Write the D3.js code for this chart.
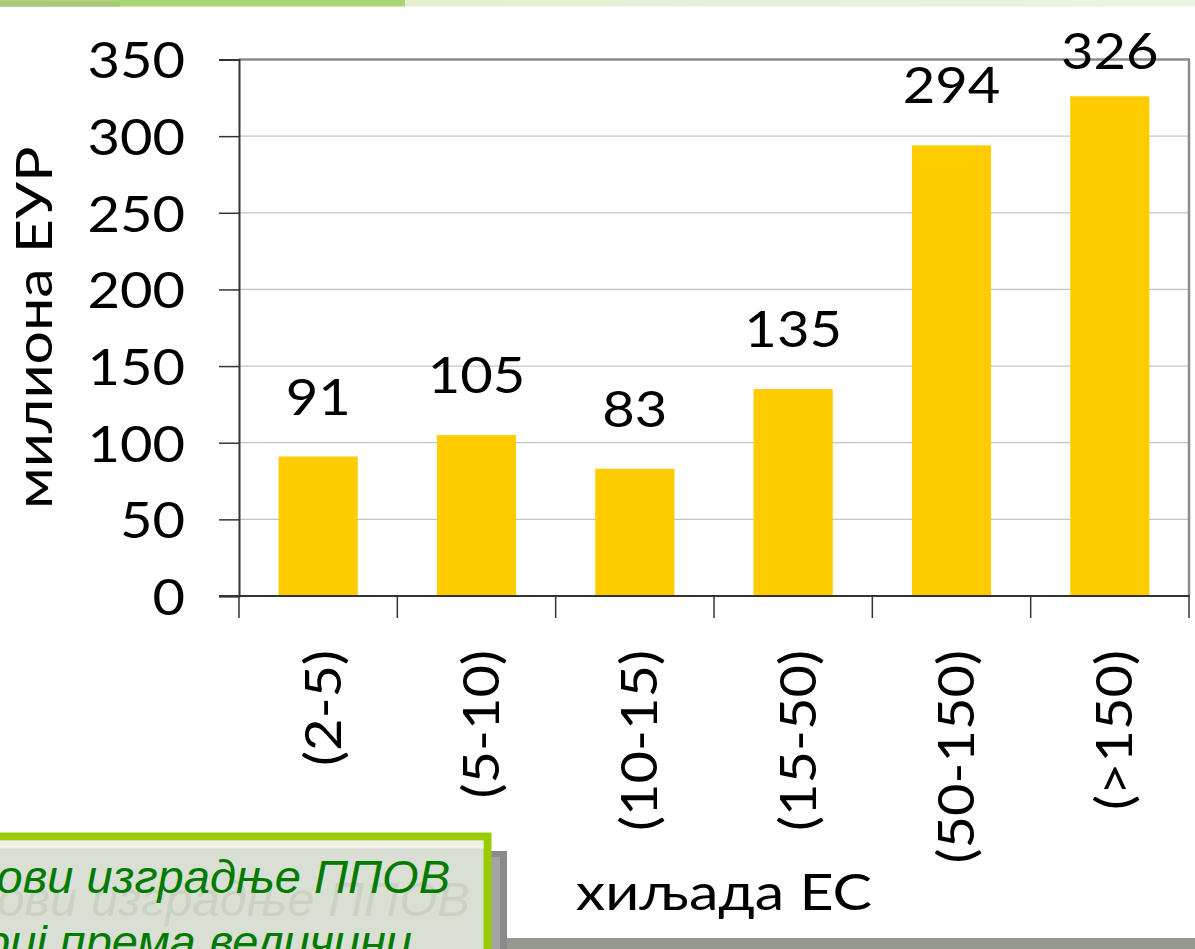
<!DOCTYPE html>
<html><head><meta charset="utf-8">
<script src="https://cdn.jsdelivr.net/npm/d3@7"></script>
<style>body{margin:0;background:#fff;overflow:hidden}svg{display:block}</style>
</head><body>
<svg id="c" width="1195" height="949"></svg>
<script>
const categories = ["(2-5)", "(5-10)", "(10-15)", "(15-50)", "(50-150)", "(>150)"];
const values = [91, 105, 83, 135, 294, 326];
const yTicks = [0, 50, 100, 150, 200, 250, 300, 350];
const yTitle = "милиона ЕУР";
const xTitle = "хиљада ЕС";
const boxLines = ["Трошкови изградње ППОВ", "по категориј према величини"];

const svg = d3.select("#c");
const FONT = "Lato, 'Open Sans', sans-serif";
const SX = 1.13;   // horizontal stretch of text to mimic the wider reference font

// top decorative strip
const defs = svg.append("defs");
const g1 = defs.append("linearGradient").attr("id","strip").attr("x1","0").attr("x2","1");
g1.append("stop").attr("offset","0").attr("stop-color","#e0edc9");
g1.append("stop").attr("offset","1").attr("stop-color","#ebf4e2");
svg.append("rect").attr("x",0).attr("y",0).attr("width",1195).attr("height",6.5).attr("fill","url(#strip)");
svg.append("rect").attr("x",0).attr("y",0).attr("width",405).attr("height",6.5).attr("fill","#acd374");
svg.append("rect").attr("x",0).attr("y",2).attr("width",120).attr("height",4.5).attr("fill","#a9c87c");

const x0 = 239, x1 = 1189, yTop = 59.5, yBot = 596;
const x = d3.scaleBand().domain(categories).range([x0, x1]).paddingInner(0.5).paddingOuter(0.25);
const xb = d3.scaleBand().domain(categories).range([x0, x1]);
const y = d3.scaleLinear().domain([0, 350]).range([yBot, yTop]);

// gridlines
svg.append("g").selectAll("line").data(yTicks.filter(d => d > 0 && d < 350)).join("line")
  .attr("x1", x0).attr("x2", x1).attr("y1", d => y(d)).attr("y2", d => y(d))
  .attr("stroke", "#c4c4c4").attr("stroke-width", 1.3);

// plot border top/right
svg.append("line").attr("x1", x0).attr("x2", x1 + 1).attr("y1", yTop).attr("y2", yTop).attr("stroke", "#8c8c8c").attr("stroke-width", 2.5);
svg.append("line").attr("x1", x1).attr("x2", x1).attr("y1", yTop).attr("y2", yBot).attr("stroke", "#8c8c8c").attr("stroke-width", 2.5);

// bars
svg.append("g").selectAll("rect").data(values).join("rect")
  .attr("x", (d, i) => x(categories[i])).attr("width", x.bandwidth())
  .attr("y", d => y(d)).attr("height", d => yBot - y(d)).attr("fill", "#ffcc00");

// y axis
const yAxis = d3.axisLeft(y).tickValues(yTicks).tickSize(20).tickPadding(34).tickFormat(d3.format("d"));
const ya = svg.append("g").attr("transform", `translate(${x0},0)`).call(yAxis);
ya.select(".domain").attr("stroke", "#333").attr("stroke-width", 2);
ya.selectAll(".tick line").attr("stroke", "#333").attr("stroke-width", 1.5);
ya.selectAll("text").attr("font-family", FONT).attr("font-size", 51).attr("fill", "#000").attr("dy", "0.36em")
  .attr("x", -54 / 1.1).attr("transform", "scale(1.1,1)");

// x axis
const xAxis = d3.axisBottom(xb).tickSize(0).tickFormat("");
const xa = svg.append("g").attr("transform", `translate(0,${yBot})`).call(xAxis);
xa.select(".domain").remove();
xa.append("line").attr("x1", x0 - 20).attr("x2", x1 + 1).attr("y1", 0).attr("y2", 0).attr("stroke", "#333").attr("stroke-width", 2);
xa.selectAll("line.sep").data(categories.concat(["end"])).join("line").attr("class","sep")
  .attr("x1", (d, i) => x0 + i * xb.step()).attr("x2", (d, i) => x0 + i * xb.step())
  .attr("y1", 0).attr("y2", 22).attr("stroke", "#333").attr("stroke-width", 1.5);

// category labels rotated
svg.append("g").selectAll("text").data(categories).join("text")
  .attr("transform", d => `translate(${xb(d) + xb.bandwidth() / 2 + 4},650) rotate(-90) scale(1.1,1)`)
  .attr("text-anchor", "end").attr("dy", "0.36em")
  .attr("font-family", FONT).attr("font-size", 51).attr("fill", "#000").text(d => d);

// data labels (kept inside the chart area at the top)
svg.append("g").selectAll("text").data(values).join("text")
  .attr("transform", (d, i) => `translate(${x(categories[i]) + x.bandwidth() / 2},${Math.max(y(d) - 42, 69)}) scale(1.1,1)`)
  .attr("text-anchor", "middle")
  .attr("font-family", FONT).attr("font-size", 51).attr("fill", "#000").text(d => d);

// axis titles
svg.append("text").attr("transform", `translate(52,${(yTop + yBot) / 2}) rotate(-90) scale(${SX + 0.03},1)`)
  .attr("text-anchor", "middle").attr("font-family", FONT).attr("font-size", 51).attr("fill", "#000").text(yTitle);
svg.append("text").attr("transform", `translate(724,910) scale(${SX + 0.03},1)`).attr("text-anchor", "middle")
  .attr("font-family", FONT).attr("font-size", 51).attr("fill", "#000").text(xTitle);

// bottom gray bar
svg.append("rect").attr("x", 500).attr("y", 938).attr("width", 695).attr("height", 11).attr("fill", "#959a8e");

// shadow box
svg.append("rect").attr("x", -20).attr("y", 851).attr("width", 527).attr("height", 110).attr("fill", "#8a8a8a");
svg.append("rect").attr("x", -20).attr("y", 857).attr("width", 520).attr("height", 110).attr("fill", "#a3a3a3");
// note box
svg.append("rect").attr("x", -20).attr("y", 836.5).attr("width", 507.5).attr("height", 130)
  .attr("fill", "#d9dfd2").attr("stroke", "#99cc00").attr("stroke-width", 8);
svg.append("rect").attr("x", -20).attr("y", 840.5).attr("width", 503.5).attr("height", 8).attr("fill", "#eef3e6");
// ghost text
const BF = "'Liberation Sans', Arial, sans-serif";
svg.append("text").attr("x", 470).attr("y", 916).attr("text-anchor", "end")
  .attr("font-family", BF).attr("font-style", "italic").attr("font-size", 49)
  .attr("fill", "#cbd1c3").text(boxLines[0]);
svg.append("text").attr("x", 450).attr("y", 893).attr("text-anchor", "end")
  .attr("font-family", BF).attr("font-style", "italic").attr("font-size", 47)
  .attr("fill", "#007a00").text(boxLines[0]);
svg.append("text").attr("x", 412).attr("y", 958).attr("text-anchor", "end")
  .attr("font-family", BF).attr("font-style", "italic").attr("font-size", 47)
  .attr("fill", "#007a00").text(boxLines[1]);
</script>
</body></html>
